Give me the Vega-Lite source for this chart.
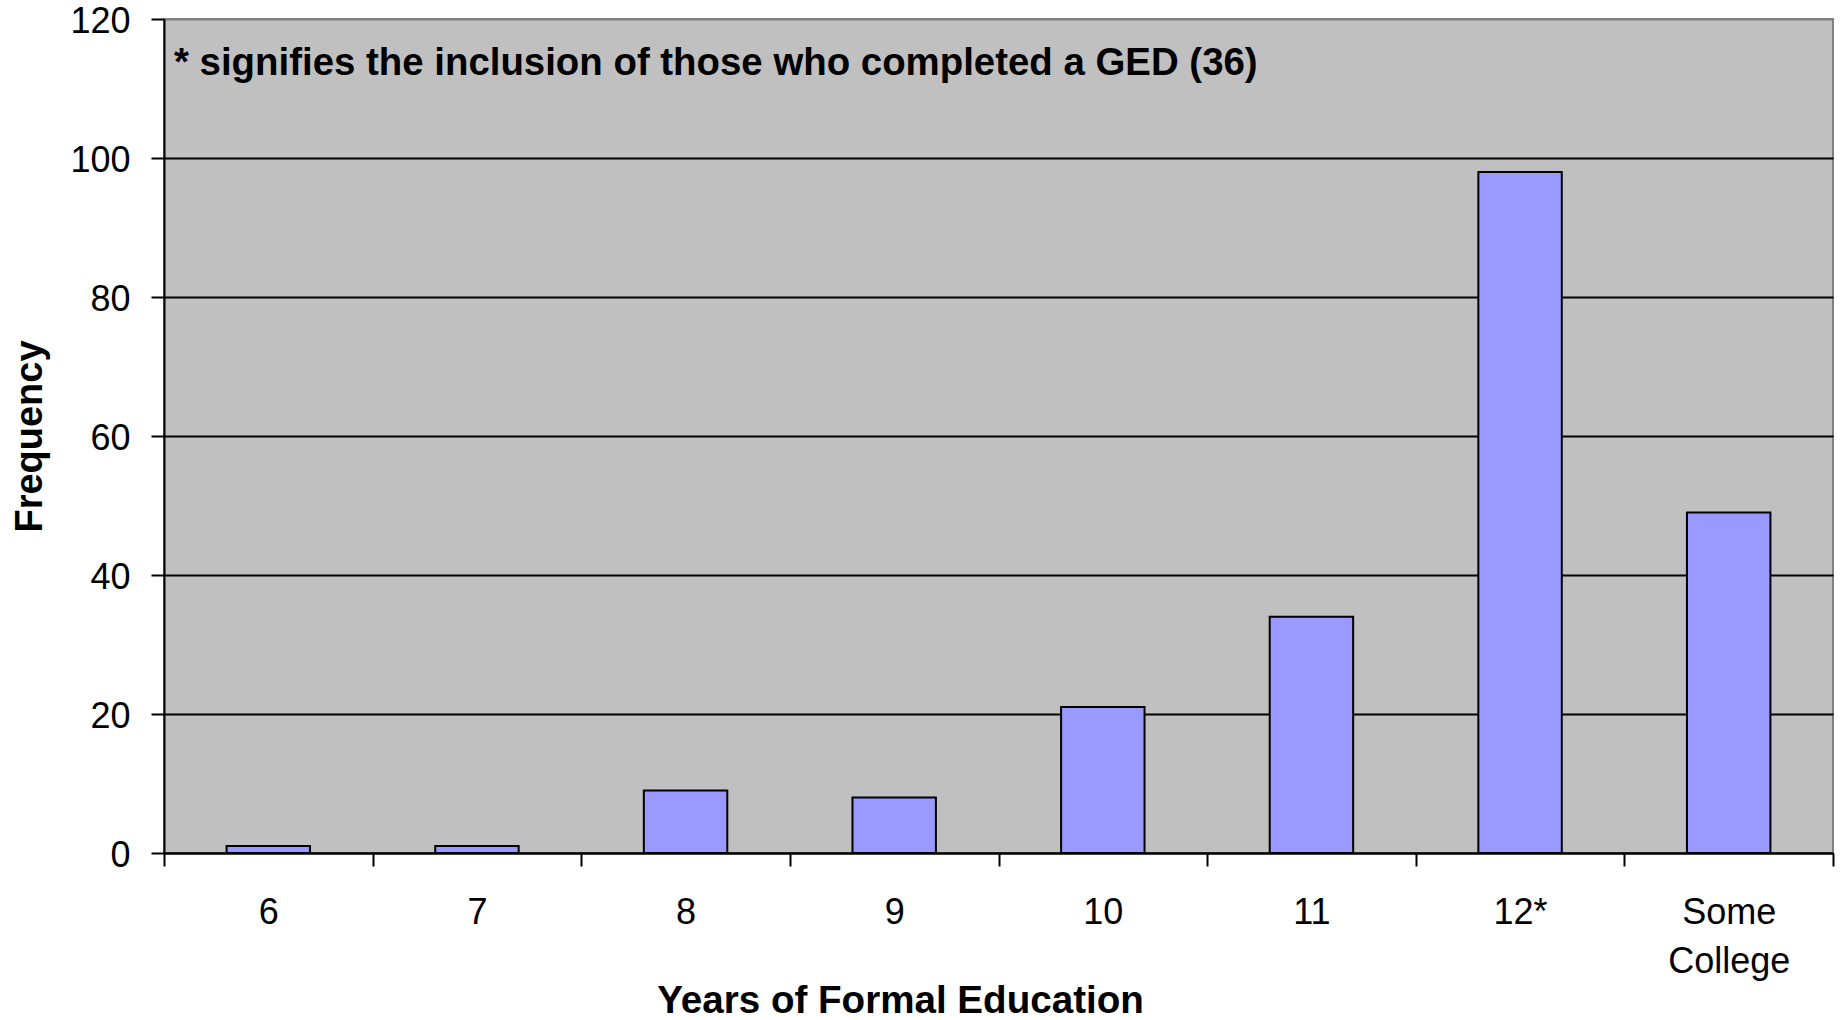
{
  "$schema": "https://vega.github.io/schema/vega-lite/v6.json",
  "width": 1669,
  "height": 834,
  "autosize": {"type": "none"},
  "padding": {"left": 164, "top": 19, "right": 8, "bottom": 167},
  "background": "white",
  "config": {
    "view": {"fill": "#C0C0C0", "stroke": "#808080", "strokeWidth": 2},
    "font": "Liberation Sans"
  },
  "data": {
    "values": [
      {"years": "6", "frequency": 1},
      {"years": "7", "frequency": 1},
      {"years": "8", "frequency": 9},
      {"years": "9", "frequency": 8},
      {"years": "10", "frequency": 21},
      {"years": "11", "frequency": 34},
      {"years": "12*", "frequency": 98},
      {"years": "Some College", "frequency": 49}
    ]
  },
  "layer": [
    {
      "mark": {"type": "bar", "fill": "#9999FF", "stroke": "black", "strokeWidth": 2, "width": {"band": 0.4}},
      "encoding": {
        "x": {
          "field": "years",
          "type": "nominal",
          "sort": null,
          "scale": {"paddingInner": 0, "paddingOuter": 0},
          "axis": {
            "title": "Years of Formal Education",
            "labelAngle": 0,
            "tickBand": "extent",
            "tickSize": 13,
            "tickColor": "black",
            "tickWidth": 2,
            "domainColor": "black",
            "domainWidth": 2,
            "labelFont": "Liberation Sans",
            "labelFontSize": 36,
            "labelColor": "black",
            "labelPadding": 29,
            "labelBaseline": "top",
            "labelLineHeight": 49,
            "labelOverlap": false,
            "labelLimit": 0,
            "labelExpr": "split(datum.label, ' ')",
            "titleFont": "Liberation Sans",
            "titleFontSize": 38.6,
            "titleFontWeight": "bold",
            "titleColor": "black",
            "titleX": 736,
            "titleY": 159,
            "titleBaseline": "alphabetic",
            "titleAlign": "center",
            "zindex": 2
          }
        },
        "y": {
          "field": "frequency",
          "type": "quantitative",
          "scale": {"domain": [0, 120]},
          "axis": {
            "title": "Frequency",
            "values": [0, 20, 40, 60, 80, 100, 120],
            "tickSize": 13,
            "tickColor": "black",
            "tickWidth": 2,
            "domainColor": "black",
            "domainWidth": 2,
            "labelFont": "Liberation Sans",
            "labelFontSize": 36,
            "labelColor": "black",
            "labelPadding": 21,
            "labelOffset": 2,
            "grid": true,
            "gridColor": {"condition": {"test": "datum.value == 120", "value": "#808080"}, "value": "black"},
            "gridWidth": 2,
            "titleFont": "Liberation Sans",
            "titleFontSize": 38,
            "titleFontWeight": "bold",
            "titleColor": "black",
            "titleX": -134,
            "titleY": 417,
            "titleBaseline": "middle",
            "titleAngle": -90,
            "titleAlign": "center"
          }
        }
      }
    },
    {
      "data": {"values": [{"note": "* signifies the inclusion of those who completed a GED (36)"}]},
      "mark": {"type": "text", "align": "left", "baseline": "alphabetic", "fontSize": 38.4, "fontWeight": "bold", "font": "Liberation Sans", "color": "black", "dx": 10},
      "encoding": {
        "x": {"datum": "6", "bandPosition": 0},
        "y": {"datum": 112},
        "text": {"field": "note"}
      }
    }
  ]
}
